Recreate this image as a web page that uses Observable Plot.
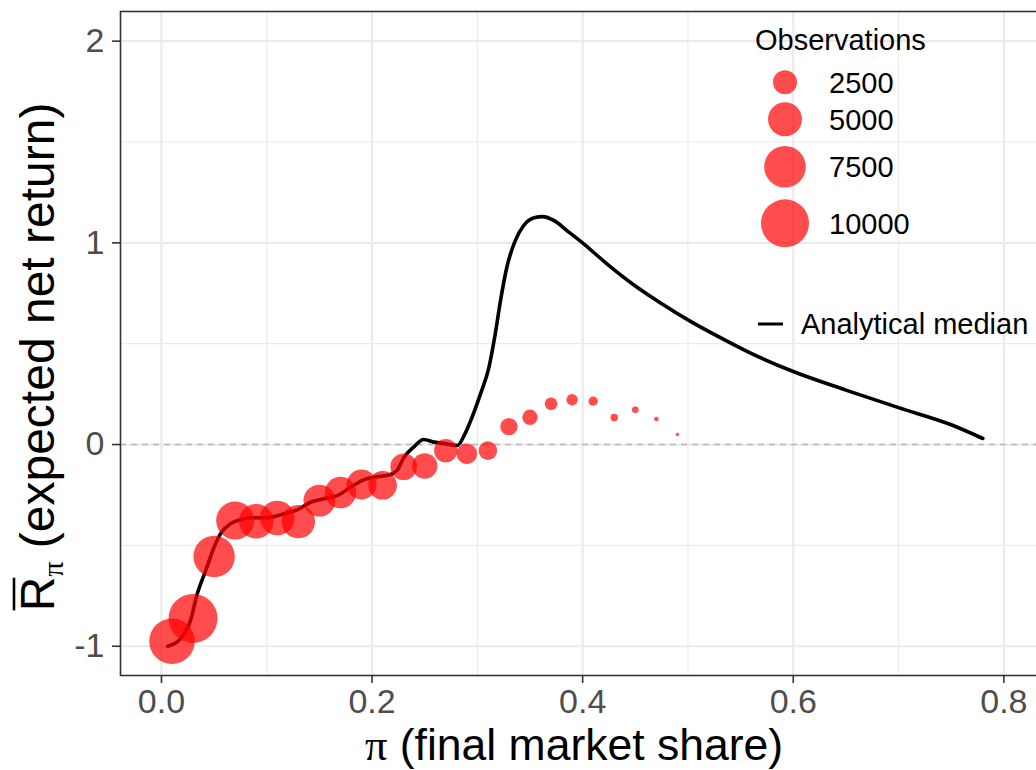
<!DOCTYPE html>
<html><head><meta charset="utf-8">
<script src="https://cdn.jsdelivr.net/npm/d3@7"></script>
<script src="https://cdn.jsdelivr.net/npm/@observablehq/plot@0.6"></script>
<style>
body{margin:0;background:#fff;}
#chart{width:1036px;height:770px;overflow:hidden;position:relative;}
</style>
</head><body><div id="chart"></div>
<script>
// Binned simulation results (bin centre, mean net return, number of observations)
const binShare  = [0.01,0.03,0.05,0.07,0.09,0.11,0.13,0.15,0.17,0.19,0.21,0.23,0.25,0.27,0.29,0.31,0.33,0.35,0.37,0.39,0.41,0.43,0.45,0.47,0.49];
const binReturn = [-0.975,-0.862,-0.555,-0.377,-0.380,-0.364,-0.382,-0.278,-0.238,-0.198,-0.202,-0.110,-0.106,-0.030,-0.046,-0.030,0.089,0.135,0.202,0.222,0.215,0.134,0.172,0.127,0.050];
const binObs    = [9000,10400,7440,6270,5200,5200,4840,4440,4280,3900,3550,3070,2800,2380,1840,1500,1310,1030,690,560,380,240,190,90,50];

// Analytical median curve
const medianShare  = [0.006,0.018,0.0275,0.034,0.042,0.050,0.056,0.0655,0.075,0.0845,0.100,0.116,0.129,0.1415,0.154,0.167,0.1795,0.192,0.205,0.214,0.224,0.230,0.240,0.249,0.259,0.271,0.281,0.287,0.293,0.303,0.311,0.317,0.322,0.328,0.336,0.344,0.354,0.362,0.373,0.385,0.401,0.423,0.449,0.474,0.502,0.529,0.56,0.60,0.65,0.70,0.75,0.78];
const medianReturn = [-1.0,-0.963,-0.873,-0.74,-0.625,-0.509,-0.443,-0.393,-0.373,-0.363,-0.363,-0.344,-0.324,-0.286,-0.269,-0.253,-0.212,-0.175,-0.159,-0.154,-0.126,-0.066,-0.010,0.025,0.012,0.003,-0.005,0.04,0.11,0.251,0.383,0.549,0.714,0.879,1.011,1.086,1.124,1.130,1.110,1.061,0.995,0.896,0.790,0.702,0.612,0.535,0.452,0.362,0.270,0.183,0.098,0.030];

const xTicks = [0,0.2,0.4,0.6,0.8];
const xMinor = [0.1,0.3,0.5,0.7];
const yTicks = [-1,0,1,2];
const yMinor = [-0.5,0.5,1.5];
const legendValues = [2500,5000,7500,10000];
const legendTitle = "Observations";
const lineLabel = "Analytical median";

const bins = binShare.map((s,i)=>({share:s, ret:binReturn[i], obs:binObs[i]}));
const median = medianShare.map((s,i)=>({share:s, ret:medianReturn[i]}));

const FONT = "'Liberation Sans', Arial, Helvetica, sans-serif";
const SERIF = "'Liberation Serif', 'DejaVu Serif', serif";
const gridColor = "#ebebeb";

const plot = Plot.plot({
  width: 1036, height: 770,
  marginLeft: 120, marginRight: -8, marginTop: 11, marginBottom: 95,
  x: {domain: [-0.0389, 0.8386], label: null},
  y: {domain: [-1.145, 2.147], label: null},
  r: {type: "sqrt", domain: [0, 10000], range: [0, 24]},
  style: {fontFamily: FONT, background: "white", overflow: "hidden"},
  marks: [
    Plot.gridX(xMinor, {stroke: gridColor, strokeOpacity: 1, strokeWidth: 1.2}),
    Plot.gridY(yMinor, {stroke: gridColor, strokeOpacity: 1, strokeWidth: 1.2}),
    Plot.gridX(xTicks, {stroke: gridColor, strokeOpacity: 1, strokeWidth: 2.2}),
    Plot.gridY(yTicks, {stroke: gridColor, strokeOpacity: 1, strokeWidth: 2.2}),
    Plot.ruleY([0], {stroke: "#b8b8b8", strokeWidth: 1.5, strokeDasharray: "6,5"}),
    Plot.line(median, {x: "share", y: "ret", stroke: "black", strokeWidth: 3.6, curve: "monotone-x"}),
    Plot.dot(bins, {x: "share", y: "ret", r: "obs", fill: "red", fillOpacity: 0.7, stroke: "none"}),
    Plot.frame({stroke: "#333333", strokeWidth: 1.6}),
    Plot.axisX(xTicks, {tickSize: 8, tickPadding: 5, fontSize: 34, stroke: "#333333", strokeWidth: 1.6, fill: "#4d4d4d", tickFormat: d => d.toFixed(1), label: null}),
    Plot.axisY(yTicks, {tickSize: 8, tickPadding: 8, fontSize: 34, stroke: "#333333", strokeWidth: 1.6, fill: "#4d4d4d", tickFormat: d => String(d), label: null})
  ]
});
document.getElementById("chart").appendChild(plot);

const svg = d3.select(plot);
// x axis title
const xt = svg.append("text")
  .attr("x", 574).attr("y", 760)
  .attr("text-anchor", "middle").attr("font-size", 44.5).attr("fill", "black")
  .attr("font-family", FONT);
xt.append("tspan").attr("font-family", SERIF).text("π");
xt.append("tspan").text(" (final market share)");

// y axis title
const yg = svg.append("g").attr("transform", "translate(54,357) rotate(-90)");
const yt = yg.append("text")
  .attr("text-anchor", "middle").attr("font-size", 48).attr("fill", "black")
  .attr("font-family", FONT);
yt.append("tspan").text("R");
yt.append("tspan").attr("font-family", SERIF).attr("font-size", 30).attr("dy", 9).text("π");
yt.append("tspan").attr("dy", -9).text(" (expected net return)");
const rExt = yt.node().getExtentOfChar(0);
yg.append("line")
  .attr("x1", rExt.x + 1).attr("x2", rExt.x + rExt.width - 1)
  .attr("y1", -40).attr("y2", -40)
  .attr("stroke", "black").attr("stroke-width", 2.6);

// legend
const rScale = plot.scale("r");
const lg = svg.append("g").attr("font-family", FONT).attr("fill", "black").attr("text-anchor", "start");
lg.append("text").attr("x", 755).attr("y", 50).attr("font-size", 29).text(legendTitle);
const legendY = [82.3, 119.3, 166.7, 223.3];
legendValues.forEach((v,i) => {
  lg.append("circle").attr("cx", 785).attr("cy", legendY[i]).attr("r", rScale.apply(v))
    .attr("fill", "red").attr("fill-opacity", 0.7);
  lg.append("text").attr("x", 829).attr("y", legendY[i]).attr("dy", "0.36em").attr("font-size", 29).text(String(v));
});
lg.append("line").attr("x1", 758).attr("x2", 783).attr("y1", 324).attr("y2", 324)
  .attr("stroke", "black").attr("stroke-width", 3);
lg.append("text").attr("x", 801).attr("y", 324).attr("dy", "0.36em").attr("font-size", 29).text(lineLabel);
</script>
</body></html>
